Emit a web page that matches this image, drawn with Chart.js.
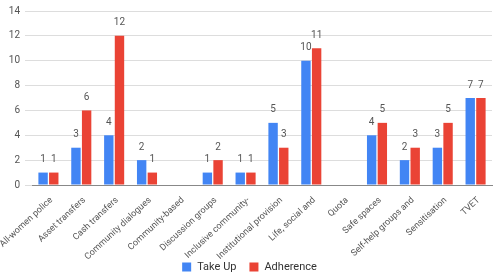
<!DOCTYPE html>
<html lang="en">
<head>
    <meta charset="UTF-8">
    <title>Take Up and Adherence</title>
    <script src="https://cdn.jsdelivr.net/npm/chart.js"></script>
    <style>
        html, body { margin: 0; padding: 0; background: #fff; }
        #wrap { width: 499px; height: 273px; }
    </style>
</head>
<body>
    <div id="wrap"><canvas id="myChart" width="499" height="273"></canvas></div>

    <script>
        const categories = [
            'All-women police', 'Asset transfers', 'Cash transfers', 'Community dialogues',
            'Community-based', 'Discussion groups', 'Inclusive community-', 'Institutional provision',
            'Life, social and', 'Quota', 'Safe spaces', 'Self-help groups and', 'Sensitisation', 'TVET'
        ];
        const takeUp     = [1, 3, 4, 2, null, 1, 1, 5, 10, null, 4, 2, 3, 7];
        const adherence  = [1, 6, 12, 1, null, 2, 1, 3, 11, null, 5, 3, 5, 7];
        const yTicks     = [0, 2, 4, 6, 8, 10, 12, 14];

        const FONT = 'Roboto, "Liberation Sans", Arial, sans-serif';

        // подписи значений над столбцами
        const valueLabels = {
            id: 'valueLabels',
            afterDatasetsDraw(chart) {
                const ctx = chart.ctx;
                ctx.save();
                ctx.font = '10px ' + FONT;
                ctx.fillStyle = '#555';
                ctx.textAlign = 'center';
                ctx.textBaseline = 'middle';
                chart.data.datasets.forEach((ds, i) => {
                    chart.getDatasetMeta(i).data.forEach((bar, j) => {
                        if (ds.data[j] == null) return;
                        ctx.fillText(String(ds.data[j]), bar.x, bar.y - 13);
                    });
                });
                ctx.restore();
            }
        };

        // своя легенда внизу, под наклонными подписями оси
        const bottomLegend = {
            id: 'bottomLegend',
            afterDraw(chart) {
                const ctx = chart.ctx;
                const box = 9, gap = 6, between = 13;
                const y = chart.height - 6;
                ctx.save();
                ctx.font = '11px ' + FONT;
                ctx.textBaseline = 'middle';
                const items = chart.data.datasets.map(ds => ({
                    text: ds.label, color: ds.backgroundColor, w: ctx.measureText(ds.label).width
                }));
                let total = items.reduce((s, it) => s + box + gap + it.w, 0) + between * (items.length - 1);
                let x = (chart.width - total) / 2;
                items.forEach(it => {
                    ctx.fillStyle = it.color;
                    ctx.fillRect(x, y - box / 2, box, box);
                    x += box + gap;
                    ctx.fillStyle = '#333';
                    ctx.fillText(it.text, x, y);
                    x += it.w + between;
                });
                ctx.restore();
            }
        };

        const ctx = document.getElementById('myChart').getContext('2d');
        new Chart(ctx, {
            type: 'bar',
            data: {
                labels: categories,
                datasets: [
                    { label: 'Take Up', data: takeUp, backgroundColor: '#4285F4' },
                    { label: 'Adherence', data: adherence, backgroundColor: '#EA4335' }
                ]
            },
            options: {
                responsive: false,
                animation: false,
                layout: { padding: { top: 4, right: 7, left: 0, bottom: 30 } },
                datasets: { bar: { categoryPercentage: 0.65, barPercentage: 0.88 } },
                plugins: {
                    legend: { display: false },
                    tooltip: { enabled: false }
                },
                scales: {
                    x: {
                        grid: { display: false },
                        border: { color: '#888' },
                        ticks: {
                            color: '#555', font: { family: FONT, size: 9 },
                            minRotation: 43, maxRotation: 43, autoSkip: false,
                            padding: 2, labelOffset: 3
                        },
                        afterFit(scale) {
                            scale.height = 58;
                            scale.paddingLeft = 0;
                            scale.paddingRight = 0;
                            // подписи не обрезаем по высоте оси
                            scale._computeLabelArea = () => undefined;
                        }
                    },
                    y: {
                        min: 0, max: 14,
                        afterBuildTicks(scale) { scale.ticks = yTicks.map(v => ({ value: v })); },
                        grid: { color: '#ddd', drawTicks: true, tickLength: 7 },
                        border: { display: false },
                        ticks: { color: '#555', font: { family: FONT, size: 10 }, padding: 5 },
                        afterFit(scale) { scale.width = 32; }
                    }
                }
            },
            plugins: [valueLabels, bottomLegend]
        });
    </script>
</body>
</html>
